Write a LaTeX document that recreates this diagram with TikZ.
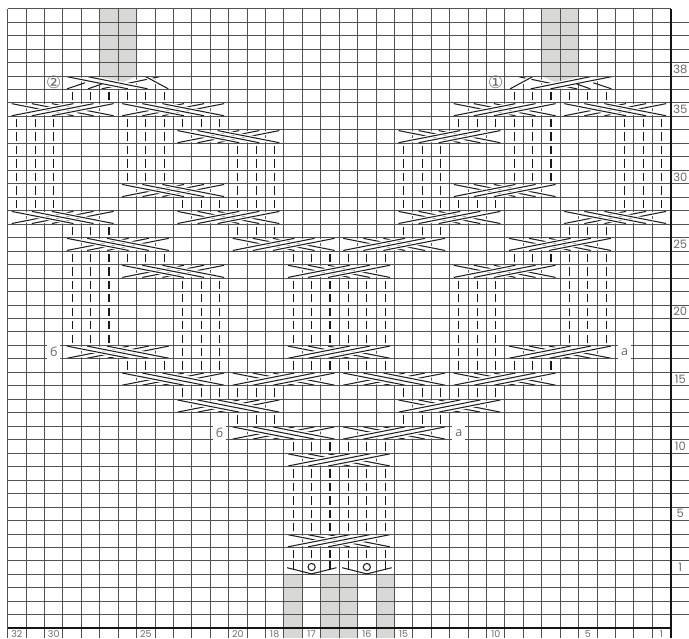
\documentclass[tikz,border=0pt]{standalone}
\usepackage{fontspec}
\setmainfont{Poppins}
\newfontfamily\letterfont{Open Sans}
\newfontfamily\ringfont{DejaVu Sans}
\usepackage{xcolor}
\definecolor{labelgray}{gray}{0.42}
\definecolor{cellgray}{RGB}{216,216,214}
\tikzset{
  gridline/.style={line width=0.95pt, black!68},
  boldline/.style={line width=2.2pt, black!92},
  stitch/.style={line width=1.05pt, black!90},
  strand/.style={line width=1.05pt, black!88, preaction={draw=white, line width=3.6pt}},
  yarn/.style={line width=1.05pt, black!88},
  rowlabel/.style={font=\fontsize{11.5}{13}\selectfont, text=labelgray, inner sep=0pt},
  stlabel/.style={font=\fontsize{9.5}{10}\selectfont, text=labelgray, inner sep=0pt},
  gaplabel/.style={font=\letterfont\fontsize{12.5}{13}\selectfont, text=labelgray, fill=white,
                   inner sep=0pt, minimum width=13pt, minimum height=15pt},
  ringlabel/.style={font=\ringfont\fontsize{17}{18}\selectfont, text=labelgray, inner sep=0pt},
}
% cable crossings, #1 = left column, #2 = row
\newcommand{\crossdown}[2]{
  \begin{scope}[shift={(#1,#2+3)}]
    \foreach \k in {0,1,2} \draw[strand] ({0.22+1.09*\k},0.05) -- ({3.57+1.09*\k},0.95);
    \foreach \k in {0,1,2} \draw[strand] ({0.22+1.09*\k},0.95) -- ({3.57+1.09*\k},0.05);
  \end{scope}
}
\newcommand{\crossup}[2]{
  \begin{scope}[shift={(#1,#2+3)}]
    \foreach \k in {0,1,2} \draw[strand] ({0.22+1.09*\k},0.95) -- ({3.57+1.09*\k},0.05);
    \foreach \k in {0,1,2} \draw[strand] ({0.22+1.09*\k},0.05) -- ({3.57+1.09*\k},0.95);
  \end{scope}
}
% last crossing, row 37
\newcommand{\crosslast}{
  \draw[strand] (2.1,0.05) -- (5.25,0.95);
  \draw[strand] (4.5,0.95) -- (5.72,0.05);
  \draw[strand] (1.36,0.95) -- (4.6,0.05);
  \draw[strand] (0.22,0.95) -- (3.53,0.05);
  \draw[yarn] (0.22,0.05) -- (1.2,0.5);
  \draw[yarn] (1.36,0.05) -- (2.1,0.4);
}
\begin{document}
\begin{tikzpicture}[x=18.417pt, y=13.47pt]
  \useasboundingbox (-0.418,-0.72) rectangle (36.993,46.645);

  % shaded columns
  \foreach \c in {5,6,29,30} \fill[cellgray] (\c,41) rectangle (\c+1,46);
  \fill[cellgray] (5,41) -- (6,40.35) -- (7,41) -- cycle;
  \fill[cellgray] (29,41) -- (30,40.35) -- (31,41) -- cycle;
  \foreach \c in {15,17,18,20} \fill[cellgray] (\c,-0.72) rectangle (\c+1,4);

  % grid
  \foreach \c in {0,...,35} \draw[gridline] (\c,-0.72) -- (\c,46);

  % crossings
  \foreach \c/\rw in {0/27,9/33,6/29,6/35,30/35,30/27,3/25,6/23,3/17,6/15,18/15,9/13,12/11}
    \crossdown{\c}{\rw};
  \foreach \c/\rw in {0/35,24/35,21/33,24/29,9/27,21/27,12/25,18/25,27/25,15/23,24/23,15/17,27/17,12/15,24/15,21/13,18/11,15/9,15/3}
    \crossup{\c}{\rw};
  \begin{scope}[shift={(3,40)}]
    \crosslast
  \end{scope}
  \begin{scope}[shift={(33,40)}, xscale=-1]
    \crosslast
  \end{scope}

  \foreach \rw in {1,...,45} \draw[gridline] (0,\rw) -- (36.993,\rw);
  \draw[gridline] (0,46) -- (36,46);
  \draw[boldline] (0,0) -- (36,0);
  \draw[boldline] (36,-0.72) -- (36,46);

  % stitches, each entry starts three columns
  \foreach \rw/\cols in {36/{3,6,27,30}, 34/{0,6,9,24,27,33}, 33/{0,6,27,33},
      32/{0,6,12,21,27,33}, 31/{0,6,12,21,27,33}, 30/{0,6,12,21,27,33},
      29/{0,12,21,33}, 28/{0,9,12,21,24,33}, 26/{3,12,21,30}, 24/{3,6,15,18,27,30},
      23/{3,30}, 22/{3,9,15,18,24,30}, 21/{3,9,15,18,24,30}, 20/{3,9,15,18,24,30},
      19/{3,9,15,18,24,30}, 18/{3,9,15,18,24,30}, 17/{9,24}, 16/{6,9,15,18,24,27},
      14/{9,12,21,24}, 12/{12,21}, 10/{15,18}, 8/{15,18}, 7/{15,18}, 6/{15,18},
      5/{15,18}, 4/{15,18}, 2/{15,18}}
    \foreach \c in \cols
      \foreach \k in {0,1,2}
        \draw[stitch] (\c+\k+0.5,\rw+3.19) -- (\c+\k+0.5,\rw+3.81);

  % row 1
  \foreach \c in {15,17,18,20} \draw[stitch] (\c+0.5,4.35) -- (\c+0.5,4.96);
  \draw[yarn] (15.17,4.5) -- (16.5,4.04) -- (17.85,4.5);
  \draw[yarn] (18.15,4.5) -- (19.5,4.04) -- (20.85,4.5);
  \draw[yarn] (16.5,4.55) circle[radius=3.6pt];
  \draw[yarn] (19.5,4.55) circle[radius=3.6pt];

  % numbers
  \foreach \rw in {38,35,30,25,20,15,10,5,1}
    \node (row\rw) [rowlabel] at (36.52,\rw+3.5) {\rw};
  \foreach \c/\st in {0/32,2/30,7/25,12/20,14/18,16/17,19/16,21/15,26/10,31/5,35/1}
    \node (st\st) [stlabel] at (\c+0.5,-0.4) {\st};

  \node (markbl) [gaplabel] at (2.5,20.5) {б};
  \node (markbs) [gaplabel] at (11.5,14.5) {б};
  \node (markal) [gaplabel] at (33.5,20.5) {а};
  \node (markas) [gaplabel] at (24.5,14.5) {а};
  \node (ringtwo) [ringlabel] at (2.5,40.5) {②};
  \node (ringone) [ringlabel] at (26.5,40.5) {①};
\end{tikzpicture}
\end{document}
